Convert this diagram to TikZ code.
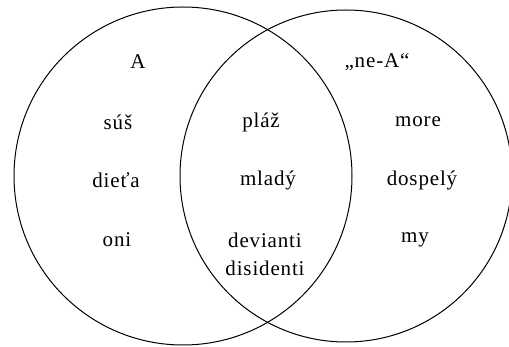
\documentclass[tikz,border=0pt]{standalone}
\usepackage{fontspec}
\setmainfont{Liberation Serif}[LetterSpace=4]
\tikzset{
  word/.style={anchor=center, inner sep=0pt, align=center,
    font=\fontsize{21}{28}\selectfont},
  ring/.style={draw=black, line width=1pt}
}
\begin{document}
\begin{tikzpicture}[x=1pt,y=-1pt]
	\useasboundingbox (0,0) rectangle (509,347);
	\clip (0,0) rectangle (509,347);
	\draw[ring] (183,176) circle[radius=169];
	\draw[ring] (346,176) circle[radius=166];
	\node[word] (setA)    at (138,62)  {A};
	\node[word] (setNonA) at (377,62)  {„ne-A“};
	\node[word] (sus)     at (118,122) {súš};
	\node[word] (plaz)    at (261,122) {pláž};
	\node[word] (more)    at (418,122) {more};
	\node[word] (dieta)   at (116,180) {dieťa};
	\node[word] (mlady)   at (268,180) {mladý};
	\node[word] (dospely) at (422,180) {dospelý};
	\node[word] (oni)     at (117,240) {oni};
	\node[word] (dev)     at (265,254) {devianti\\disidenti};
	\node[word] (my)      at (415,240) {my};
\end{tikzpicture}
\end{document}
